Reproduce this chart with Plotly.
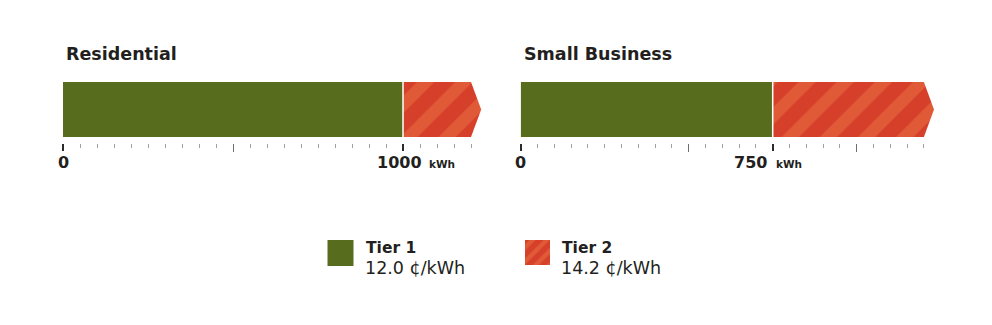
import plotly.graph_objects as go

# ---- data ----
panels = ["Residential", "Small Business"]
tier1_limit = [1000, 750]          # kWh where Tier 2 begins
bar_cap = [1200, 1200]             # kWh where bars stop (arrow drawn beyond)
labelled_ticks = [[0, 1000], [0, 750]]
mid_ticks = [[500], [500, 1000]]
tier_names = ["Tier 1", "Tier 2"]
tier_rates = ["12.0 ¢/kWh", "14.2 ¢/kWh"]

# ---- style ----
W, H = 992, 325
GREEN = "#586C1E"
RED_LIGHT = "#E05A38"
RED_DARK = "#D6402A"
FONT = "DejaVu Sans"
TEXT = "#231F20"
AX_RANGE = 1240
TIP = 30
px_per_kwh = [0.340, 0.336]
x_start_px = [63, 520.7]
bar_top_px, axis_px = 82, 142.5
label_y_px = 162
title_y_px = 54
label_shift = {(0, 1000): -4, (1, 750): -22}
kwh_shift = [24, 1.5]


def py(p):
    return 1 - p / H


fig = go.Figure()
annotations = []
layout_axes = {}
n = len(panels)
for i, name in enumerate(panels):
    xa = "x" if i == 0 else f"x{i+1}"
    ya = "y" if i == 0 else f"y{i+1}"
    xkey = "xaxis" if i == 0 else f"xaxis{i+1}"
    ykey = "yaxis" if i == 0 else f"yaxis{i+1}"
    x0 = x_start_px[i]
    x1 = x0 + px_per_kwh[i] * AX_RANGE
    t = tier1_limit[i]
    cap = bar_cap[i]

    fig.add_trace(go.Bar(
        x=[t], base=[0], y=[0], orientation="h", width=1,
        marker=dict(color=GREEN, line=dict(width=0)),
        xaxis=xa, yaxis=ya, hoverinfo="skip"))
    fig.add_trace(go.Scatter(
        x=[t, cap, cap + TIP, cap, t, t],
        y=[0.5, 0.5, 0, -0.5, -0.5, 0.5],
        mode="lines", fill="toself", fillcolor=RED_LIGHT,
        fillpattern=dict(shape="/", fgcolor=RED_DARK, bgcolor=RED_LIGHT,
                         size=27, solidity=0.55, fillmode="replace"),
        line=dict(width=0, color=RED_LIGHT),
        xaxis=xa, yaxis=ya, hoverinfo="skip"))
    fig.add_trace(go.Scatter(x=[t, t], y=[-0.5, 0.5], mode="lines",
                             line=dict(color="white", width=1.5),
                             xaxis=xa, yaxis=ya, hoverinfo="skip"))

    layout_axes[xkey] = dict(
        domain=[x0 / W, x1 / W], range=[0, AX_RANGE], anchor=ya,
        showgrid=False, zeroline=False, showline=False, showticklabels=False,
        ticks="outside", tickmode="array", tickvals=labelled_ticks[i],
        ticklen=7, tickwidth=2, tickcolor="#2b2b2b",
        minor=dict(dtick=50, tick0=0, ticks="outside", ticklen=4,
                   tickwidth=1, tickcolor="#a0a0a0"),
        fixedrange=True)
    layout_axes[ykey] = dict(
        domain=[py(axis_px), py(bar_top_px)], range=[-0.6, 0.5],
        visible=False, anchor=xa, fixedrange=True)
    # overlay axis for the unlabelled mid ticks (longer, thin grey)
    k = 2 * n + 2 + i
    layout_axes[f"xaxis{k}"] = dict(
        domain=[x0 / W, x1 / W], range=[0, AX_RANGE], anchor=ya,
        overlaying=xa, side="bottom",
        showgrid=False, zeroline=False, showline=False, showticklabels=False,
        ticks="outside", tickmode="array", tickvals=mid_ticks[i],
        ticklen=8, tickwidth=1, tickcolor="#6e6e6e", fixedrange=True)
    fig.add_trace(go.Scatter(x=[None], y=[None], xaxis=f"x{k}", yaxis=ya,
                             mode="lines", hoverinfo="skip"))

    annotations.append(dict(
        xref="paper", yref="paper", x=(x0 + 1) / W, y=py(title_y_px),
        xanchor="left", yanchor="middle", showarrow=False,
        text=f"<b>{name}</b>", font=dict(family=FONT, size=17.5, color=TEXT)))
    for v in labelled_ticks[i]:
        annotations.append(dict(
            xref=xa, yref="paper", x=v, y=py(label_y_px),
            xanchor="center", yanchor="middle", showarrow=False,
            xshift=label_shift.get((i, v), 0),
            text=f"<b>{v}</b>", font=dict(family=FONT, size=16, color=TEXT)))
    annotations.append(dict(
        xref=xa, yref="paper", x=t, y=py(label_y_px + 1.5),
        xanchor="left", yanchor="middle", showarrow=False,
        xshift=kwh_shift[i],
        text="<b>kWh</b>", font=dict(family=FONT, size=10.5, color=TEXT)))

# ---- legend (custom swatches in a pixel-space axis) ----
sw_x = [327.5, 525]
sw_y = [240, 240]
sw_size = [26, 25]
LX = 2 * n + 1
for j, tname in enumerate(tier_names):
    x0, y0, s = sw_x[j], sw_y[j], sw_size[j]
    common = dict(x=[x0, x0 + s, x0 + s, x0, x0], y=[y0, y0, y0 + s, y0 + s, y0],
                  mode="lines", fill="toself", line=dict(width=0),
                  xaxis=f"x{LX}", yaxis=f"y{LX}", hoverinfo="skip")
    if j == 0:
        fig.add_trace(go.Scatter(fillcolor=GREEN, **common))
    else:
        fig.add_trace(go.Scatter(
            fillcolor=RED_LIGHT,
            fillpattern=dict(shape="/", fgcolor=RED_DARK, bgcolor=RED_LIGHT,
                             size=10, solidity=0.55, fillmode="replace"),
            **common))
    annotations.append(dict(
        xref="paper", yref="paper", x=(x0 + s + 10) / W, y=py(y0 + 8),
        xanchor="left", yanchor="middle", showarrow=False,
        text=f"<b>{tname}</b>", font=dict(family=FONT, size=15.5, color=TEXT)))
    annotations.append(dict(
        xref="paper", yref="paper", x=(x0 + s + 9) / W, y=py(y0 + 28),
        xanchor="left", yanchor="middle", showarrow=False,
        text=tier_rates[j], font=dict(family=FONT, size=17.5, color=TEXT)))

layout_axes[f"xaxis{LX}"] = dict(domain=[300 / W, 700 / W], range=[300, 700],
                                 visible=False, fixedrange=True)
layout_axes[f"yaxis{LX}"] = dict(domain=[py(290), py(225)], range=[290, 225],
                                 visible=False, fixedrange=True)

fig.update_layout(
    width=W, height=H, margin=dict(l=0, r=0, t=0, b=0),
    paper_bgcolor="white", plot_bgcolor="rgba(0,0,0,0)", showlegend=False,
    annotations=annotations, **layout_axes)

fig.write_html("out.html", config={"displayModeBar": False})
